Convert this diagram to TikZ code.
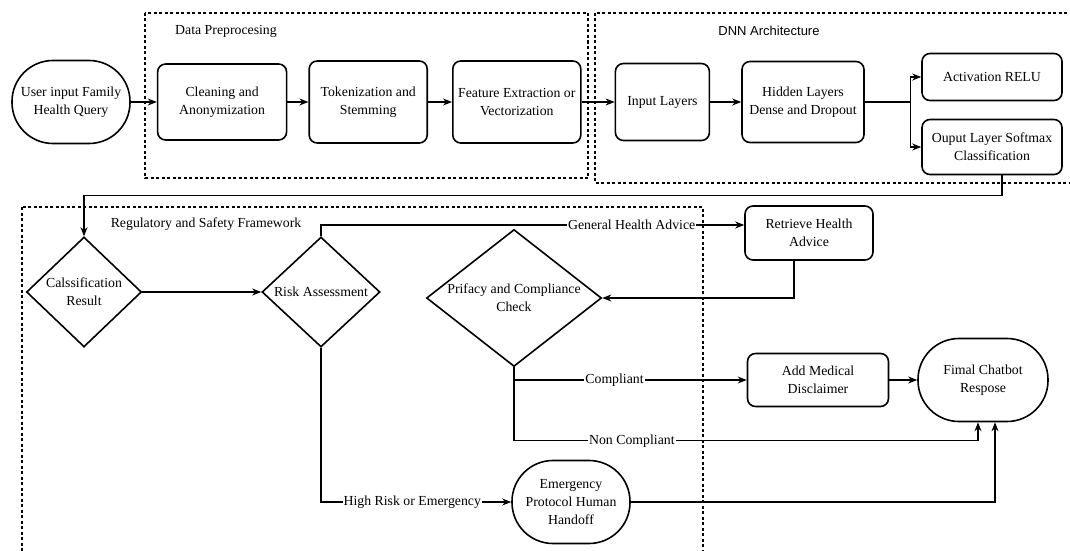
\documentclass[tikz,border=0pt]{standalone}
\usepackage{fontspec}
\setmainfont{Liberation Serif}
\newfontfamily\labelsans{Liberation Sans}
\usepackage{tikz}
\usetikzlibrary{arrows.meta, positioning, shapes.geometric}

\begin{document}
\begin{tikzpicture}[x=1pt, y=-1pt,
    every node/.style={font=\fontsize{13.8}{18}\selectfont, align=center},
    box/.style={draw, line width=1.6pt, rounded corners=8pt, inner sep=2pt},
    pill/.style={draw, line width=1.6pt, rounded corners=41pt,
                 minimum width=118pt, minimum height=83pt, inner sep=2pt},
    decision/.style={diamond, draw, line width=1.6pt, inner sep=0pt},
    frame/.style={draw, line width=1.1pt, dash pattern=on 3pt off 2.5pt},
    flow/.style={line width=1.2pt, -{Stealth[length=9pt, width=7pt]}},
    tag/.style={fill=white, inner sep=1pt}]
      \clip (0,0) rectangle (1070,551);

      % group frames
      \draw[frame] (145,13) rectangle (588,178);
      \draw[frame] (595,13) rectangle (1090,183);
      \draw[frame] (22,207) rectangle (703,570);
      \node (prep) at (226,31) {Data Preprocesing};
      \node[font=\labelsans\fontsize{13}{16}\selectfont] (dnn) at (769,31) {DNN Architecture};
      \node (safety) at (206,224) {Regulatory and Safety Framework};

      % input and preprocessing
      \node[pill] (user) at (71,102) {User input Family\\Health Query};
      \node[box, minimum width=129pt, minimum height=76pt, right=26pt of user]
            (clean) {Cleaning and\\Anonymization};
      \node[box, minimum width=118pt, minimum height=82pt, right=21pt of clean]
            (token) {Tokenization and\\Stemming};
      \node[box, minimum width=128pt, minimum height=82pt, right=24pt of token]
            (feat) {Feature Extraction or\\Vectorization};

      % network
      \node[box, minimum width=94pt, minimum height=77pt, right=33pt of feat]
            (inlayer) {Input Layers};
      \node[box, minimum width=122pt, minimum height=81pt, right=31pt of inlayer]
            (hidden) {Hidden Layers\\Dense and Dropout};
      \node[box, minimum width=140pt, minimum height=47pt] (relu) at (992,77) {Activation RELU};
      \node[box, minimum width=140pt, minimum height=55pt] (outlayer) at (992,147)
            {Ouput Layer Softmax\\Classification};

      % decisions and actions
      \node[decision, minimum width=115pt, minimum height=110pt,
            label=center:{Calssification\\Result}] (cls) at (84,292) {};
      \node[decision, minimum width=118pt, minimum height=110pt,
            label=center:{Risk Assessment}] (risk) at (321,292) {};
      \node[decision, minimum width=175pt, minimum height=137pt,
            label=center:{Prifacy and Compliance\\Check}] (privacy) at (514,298) {};
      \node[box, minimum width=128pt, minimum height=54pt] (retrieve) at (809,233)
            {Retrieve Health\\Advice};
      \node[box, minimum width=141pt, minimum height=53pt] (disclaim) at (818,380)
            {Add Medical\\Disclaimer};
      \node[pill, minimum width=130pt] (final) at (983,380) {Fimal Chatbot\\Respose};
      \node[pill] (emergency) at (571,502) {Emergency\\Protocol Human\\Handoff};

      % connectors
      \draw[flow] (user) -- (clean);
      \draw[flow] (clean) -- (token);
      \draw[flow] (token) -- (feat);
      \draw[flow] (feat) -- (inlayer);
      \draw[flow] (inlayer) -- (hidden);
      \coordinate (split) at ([xshift=46pt]hidden.east);
      \draw[line width=1.6pt] (hidden.east) -- (split);
      \draw[flow] (split) |- (relu.west);
      \draw[flow] (split) |- (outlayer.west);
      \draw[flow] ([xshift=10pt]outlayer.south) -- ++(0,20.5) -| (cls.north);

      \draw[flow] (cls.east) -- (risk.west);
      \draw[flow] (risk.north) |- node[tag, pos=0.867] {General Health Advice}
            ([yshift=8pt]retrieve.west);
      \draw[flow] ([xshift=-15pt]retrieve.south) |- (privacy.east);
      \draw[flow] (privacy.south) |- node[tag, pos=0.716] {Compliant} (disclaim.west);
      \draw[flow] (privacy.south) -- ++(0,73.5) -| node[tag, pos=0.127] {Non Compliant}
            ([xshift=-5pt]final.south);
      \draw[flow] (disclaim.east) -- (final.west);
      \draw[flow] (risk.south) |- node[tag, pos=0.74] {High Risk or Emergency} (emergency.west);
      \draw[flow] (emergency.east) -| ([xshift=12pt]final.south);
    \end{tikzpicture}
\end{document}
